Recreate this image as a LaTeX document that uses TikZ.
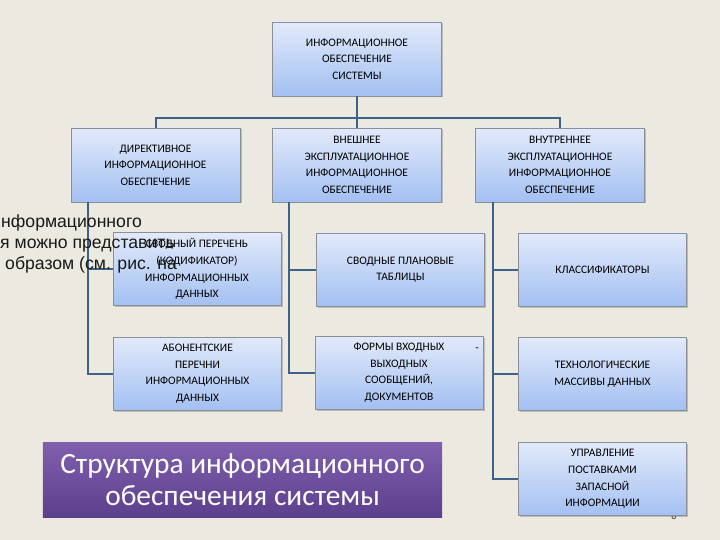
\documentclass[tikz,border=0pt]{standalone}
\usepackage{fontspec}
\setmainfont{Carlito}
\newfontfamily\arialf{Liberation Sans}
\usetikzlibrary{shadows}
\definecolor{bg}{HTML}{ECE9E0}
\definecolor{boxtop}{HTML}{E2EAFA}
\definecolor{boxbot}{HTML}{A3C0F2}
\definecolor{boxline}{HTML}{8A8E96}
\definecolor{conn}{HTML}{3E6288}
\definecolor{ttop}{HTML}{8060AE}
\definecolor{tbot}{HTML}{5C3F8D}
\tikzset{
  infobox/.style={draw=boxline, line width=0.8bp, top color=boxtop, bottom color=boxbot,
    drop shadow={shadow xshift=1.5bp, shadow yshift=-1.5bp, opacity=0.35, fill=black!60},
    minimum width=168bp, minimum height=73bp, inner sep=0pt, align=center,
    font=\fontsize{11.5}{16.7}\selectfont},
  link/.style={draw=conn, line width=2bp},
  bgtext/.style={anchor=base west, font=\arialf\fontsize{17.7}{21}\selectfont, text=black!90, inner sep=0pt}
}
\begin{document}
\begin{tikzpicture}[x=1bp,y=-1bp]
\useasboundingbox (0,0) rectangle (720,540);
\fill[bg] (0,0) rectangle (720,540);
\clip (0,0) rectangle (720,540);

% slide number (mostly hidden)
\node[font=\fontsize{10}{12}\selectfont, text=black!80] (num) at (674,516) {8};

\node[infobox, minimum width=169bp, minimum height=74bp] (t) at (357,59) {ИНФОРМАЦИОННОЕ\\ОБЕСПЕЧЕНИЕ\\СИСТЕМЫ};

\node[infobox, minimum width=169bp, minimum height=74bp] (d) at (155.5,165) {ДИРЕКТИВНОЕ\\ИНФОРМАЦИОННОЕ\\ОБЕСПЕЧЕНИЕ};
\node[infobox, minimum width=169bp, minimum height=74bp] (e) at (357,165) {ВНЕШНЕЕ\\ЭКСПЛУАТАЦИОННОЕ\\ИНФОРМАЦИОННОЕ\\ОБЕСПЕЧЕНИЕ};
\node[infobox, minimum width=169bp, minimum height=74bp] (i) at (560,165) {ВНУТРЕННЕЕ\\ЭКСПЛУАТАЦИОННОЕ\\ИНФОРМАЦИОННОЕ\\ОБЕСПЕЧЕНИЕ};

\node[infobox] (sv) at (197,269) {СВОДНЫЙ ПЕРЕЧЕНЬ\\(КОДИФИКАТОР)\\ИНФОРМАЦИОННЫХ\\ДАННЫХ};
\node[infobox] (ab) at (197.5,373.5) {АБОНЕНТСКИЕ\\ПЕРЕЧНИ\\ИНФОРМАЦИОННЫХ\\ДАННЫХ};

\node[infobox] (sp) at (400.5,269.5) {СВОДНЫЕ ПЛАНОВЫЕ\\ТАБЛИЦЫ};
\node[infobox] (fo) at (399,372.5) {ФОРМЫ ВХОДНЫХ\\ВЫХОДНЫХ\\СООБЩЕНИЙ,\\ДОКУМЕНТОВ};
\node[font=\fontsize{11.5}{12}\selectfont, inner sep=0pt] (dash) at (477,350) {-};

\node[infobox] (kl) at (602.5,269.5) {КЛАССИФИКАТОРЫ};
\node[infobox] (te) at (602.5,374) {ТЕХНОЛОГИЧЕСКИЕ\\МАССИВЫ ДАННЫХ};
\node[infobox] (up) at (602.5,479) {УПРАВЛЕНИЕ\\ПОСТАВКАМИ\\ЗАПАСНОЙ\\ИНФОРМАЦИИ};

% connectors
\coordinate (bus) at ([yshift=9.5bp]d.north);
\draw[link] (t.south) -- (e.north);
\draw[link] (d.north) -- (bus) -| (i.north);

\coordinate (lc) at ([xshift=17.5bp]d.south west);
\draw[link] (lc) |- (sv.west);
\draw[link] (lc) |- (ab.west);

\coordinate (mc) at ([xshift=17bp]e.south west);
\draw[link] (mc) |- (sp.west);
\draw[link] (mc) |- (fo.west);

\coordinate (rc) at ([xshift=18bp]i.south west);
\draw[link] (rc) |- (kl.west);
\draw[link] (rc) |- (te.west);
\draw[link] (rc) |- (up.west);

% title
\node[top color=ttop, bottom color=tbot, minimum width=399bp, minimum height=75bp,
  inner sep=0pt, align=center, text=white, font=\fontsize{29.5}{32}\selectfont] (title) at (242.5,479.5)
  {Структура информационного\\обеспечения системы};

% background slide text showing through
\node[bgtext] (bt1) at (1,228) {нформационного};
\node[bgtext] (bt2) at (0,249) {я можно представить};
\node[bgtext] (bt3) at (5,270) {образом (см. рис. на};
\end{tikzpicture}
\end{document}
